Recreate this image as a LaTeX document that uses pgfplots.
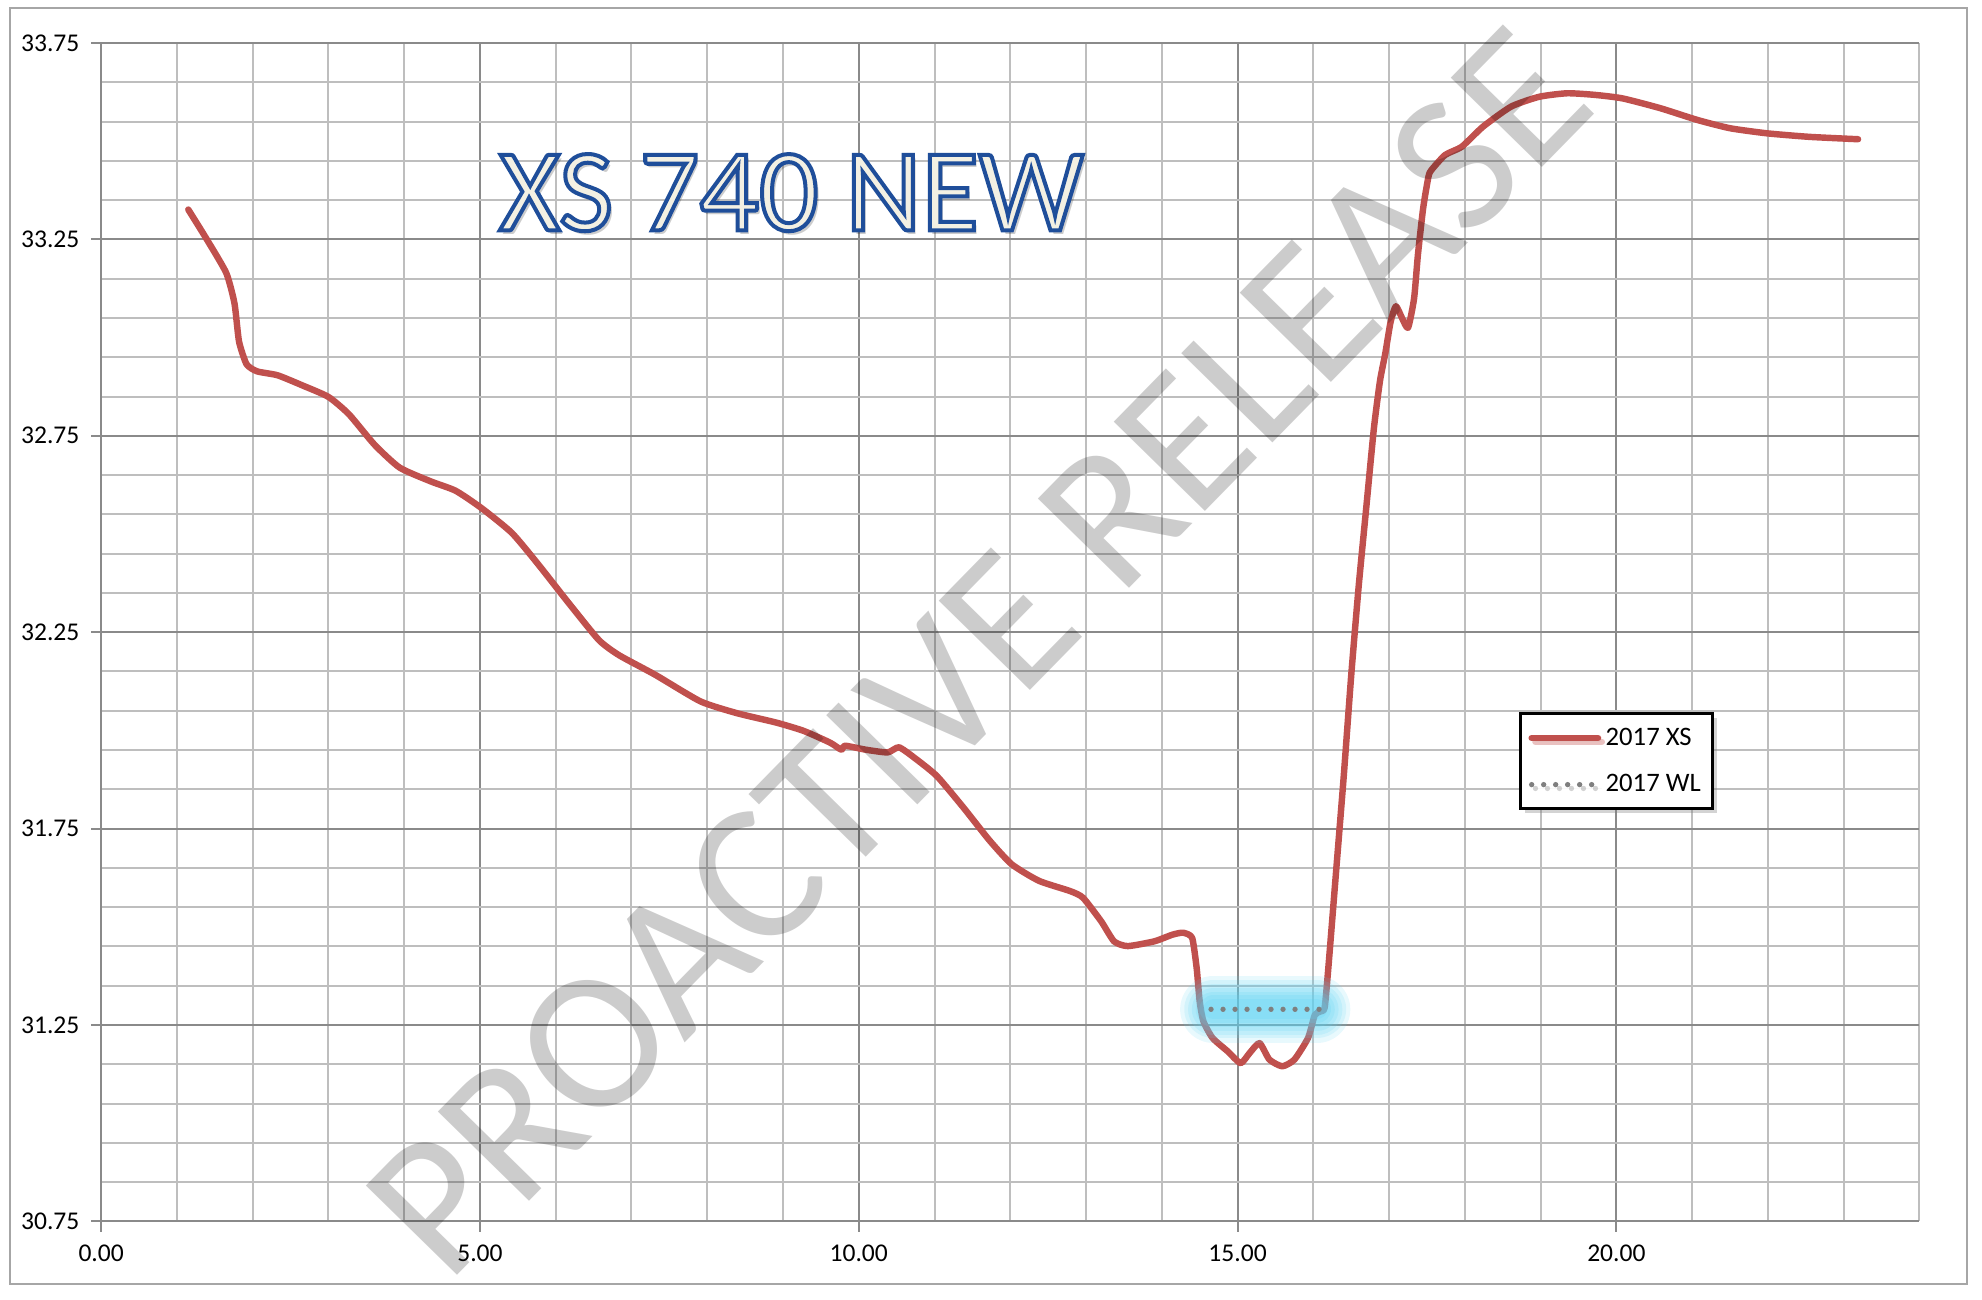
\documentclass[border=0pt]{standalone}
\usepackage{fontspec}
\setmainfont{Carlito}
\usepackage{pgfplots}
\pgfplotsset{compat=1.18}
\usetikzlibrary{shadows}

\definecolor{xsred}{HTML}{C0504D}
\definecolor{wlgray}{HTML}{7F7F7F}
\definecolor{majgrid}{HTML}{8A8A8A}
\definecolor{mingrid}{HTML}{BEBEBE}
\definecolor{glow}{HTML}{5CD2F2}
\definecolor{ttlfill}{HTML}{F3F0E3}

\begin{document}
\begin{tikzpicture}
\begin{axis}[
  width=28.76cm, height=18.64cm, scale only axis,
  xmin=0, xmax=24, ymin=30.75, ymax=33.75,
  xtick={0,5,10,15,20},
  ytick={30.75,31.25,31.75,32.25,32.75,33.25,33.75},
  minor xtick={0,1,...,24},
  minor ytick={30.75,30.85,...,33.75},
  grid=both,
  major grid style={majgrid, line width=0.9pt},
  minor grid style={mingrid, line width=0.9pt},
  axis x line*=bottom, axis y line*=left,
  axis line style={-, majgrid, line width=0.9pt},
  tick align=outside, major tick length=0.16cm, minor tick length=0pt,
  tick style={majgrid, line width=0.9pt},
  xticklabel style={font=\fontsize{11.5}{13}\selectfont, yshift=-0.09cm},
  yticklabel style={font=\fontsize{11.5}{13}\selectfont, xshift=-0.06cm},
  /pgf/number format/.cd, fixed, fixed zerofill, precision=2, assume math mode=true,
  /pgfplots/.cd,
  clip=false,
  legend image code/.code={\draw[#1] (0cm,0cm) -- (1.05cm,0cm);},
  legend cell align=left,
  legend style={at={(0.780,0.432)}, anchor=north west, draw=black,
    line width=1.3pt, fill=white, font=\fontsize{12}{14}\selectfont,
    inner xsep=0.12cm, inner ysep=0.15cm, row sep=0.27cm,
    drop shadow={shadow xshift=0.06cm, shadow yshift=-0.06cm, opacity=0.35}},
]
% 2017 XS
\addplot[xsred, line width=2.9pt, smooth, tension=0.35, line join=round, line cap=round]
coordinates {
(1.15,33.326) (1.385,33.253) (1.65,33.165) (1.76,33.087) (1.82,32.990)
(1.92,32.932) (2.06,32.914) (2.33,32.904) (2.66,32.878) (3.00,32.849)
(3.27,32.805) (3.61,32.727) (3.94,32.669) (4.35,32.634) (4.68,32.610)
(5.02,32.566) (5.42,32.503) (5.76,32.425) (6.16,32.327) (6.57,32.230)
(6.84,32.191) (7.31,32.142) (7.91,32.074) (8.39,32.044) (8.91,32.020)
(9.27,31.999) (9.62,31.969) (9.77,31.951) (9.82,31.961) (10.09,31.951)
(10.38,31.944) (10.53,31.957) (10.73,31.931) (11.03,31.884) (11.38,31.804)
(11.73,31.719) (12.02,31.659) (12.38,31.617) (12.79,31.591) (12.96,31.574)
(13.20,31.514) (13.37,31.463) (13.55,31.451) (13.90,31.463) (14.14,31.480)
(14.28,31.485) (14.40,31.472) (14.46,31.395) (14.50,31.310) (14.55,31.259)
(14.67,31.217) (14.87,31.183) (15.04,31.153) (15.16,31.179) (15.29,31.204)
(15.42,31.162) (15.59,31.145) (15.75,31.162) (15.93,31.217) (16.02,31.276)
(16.10,31.285) (16.15,31.295) (16.20,31.400) (16.30,31.640) (16.40,31.880)
(16.50,32.140) (16.60,32.370) (16.70,32.570) (16.80,32.770) (16.88,32.890)
(16.95,32.960) (17.02,33.040) (17.09,33.080) (17.17,33.050) (17.25,33.025)
(17.33,33.100) (17.38,33.210) (17.45,33.330) (17.52,33.410) (17.56,33.427)
(17.74,33.465) (17.96,33.486) (18.24,33.537) (18.61,33.588) (18.98,33.613)
(19.35,33.622) (19.71,33.618) (20.08,33.609) (20.58,33.584) (21.07,33.554)
(21.50,33.533) (21.99,33.520) (22.55,33.511) (23.19,33.505)
};
% glow round the water level
\addplot[glow, line width=1.05cm, opacity=0.14, line cap=round, forget plot]
  coordinates {(14.68,31.29) (16.05,31.29)};
\addplot[glow, line width=0.92cm, opacity=0.15, line cap=round, forget plot]
  coordinates {(14.68,31.29) (16.05,31.29)};
\addplot[glow, line width=0.80cm, opacity=0.16, line cap=round, forget plot]
  coordinates {(14.68,31.29) (16.05,31.29)};
\addplot[glow, line width=0.68cm, opacity=0.17, line cap=round, forget plot]
  coordinates {(14.68,31.29) (16.05,31.29)};
\addplot[glow, line width=0.56cm, opacity=0.18, line cap=round, forget plot]
  coordinates {(14.68,31.29) (16.05,31.29)};
\addplot[glow, line width=0.44cm, opacity=0.2, line cap=round, forget plot]
  coordinates {(14.68,31.29) (16.05,31.29)};
\addplot[glow, line width=0.32cm, opacity=0.2, line cap=round, forget plot]
  coordinates {(14.68,31.29) (16.05,31.29)};
% 2017 WL
\addplot[wlgray, line width=2.4pt, line cap=round, dash pattern=on 0pt off 5.4pt]
  coordinates {(14.65,31.29) (16.15,31.29)};
\legend{2017 XS, 2017 WL}

\coordinate (ttl) at (axis cs:9.11,33.369);
\coordinate (wm) at (axis cs:11.58,32.20);
\end{axis}

% chart border
\draw[gray!70, line width=0.9pt]
  ([shift={(-1.44cm,-0.99cm)}]current axis.south west) rectangle
  ([shift={(0.75cm,0.56cm)}]current axis.north east);

% title: outlined letters
\node[text=black, opacity=0.2, font=\fontsize{53}{60}\selectfont]
  at ([shift={(1.5pt,-2pt)}]ttl) {XS 740 NEW};
\node[font=\fontsize{53}{60}\selectfont] at (ttl)
  {\color{ttlfill}\special{pdf:literal direct 2 Tr 1.8 w 0.122 0.306 0.604 RG}XS 740 NEW\special{pdf:literal direct 0 Tr}};

% watermark
\node[overlay, rotate=45.6, text=black, opacity=0.2, font=\fontsize{89.5}{100}\selectfont]
  at (wm) {PROACTIVE RELEASE};

\pgfresetboundingbox
\path[use as bounding box]
  ([shift={(-1.60cm,-1.23cm)}]current axis.south west) rectangle
  ([shift={(0.99cm,0.68cm)}]current axis.north east);
\end{tikzpicture}
\end{document}
